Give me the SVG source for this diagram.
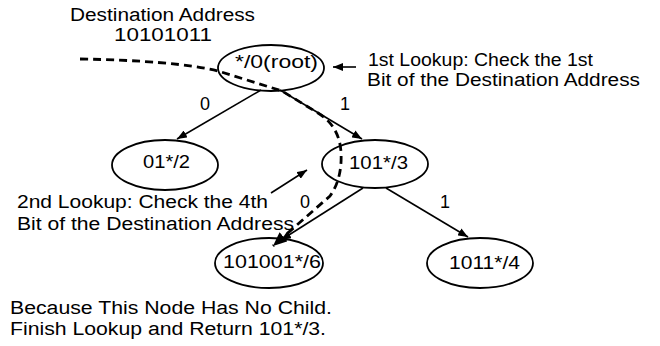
<svg xmlns="http://www.w3.org/2000/svg" width="660" height="346" viewBox="0 0 660 346">
  <style>
    text { font-family: "Liberation Sans", Arial, sans-serif; font-size: 18px; fill: #000; }
    .node ellipse { fill: #fff; stroke: #000; stroke-width: 1.8; }
    .edge { fill: none; stroke: #000; stroke-width: 1.6; }
    .path { fill: none; stroke: #000; stroke-width: 2.8; stroke-dasharray: 8 5; }
  </style>
  <defs>
    <marker id="arrow" viewBox="0 0 10 8" refX="10" refY="4" markerWidth="10" markerHeight="8" markerUnits="userSpaceOnUse" orient="auto">
      <path d="M0,0 L10,4 L0,8 Z" fill="#000"/>
    </marker>
    <marker id="arrowBig" viewBox="0 0 14 12" refX="14" refY="6" markerWidth="14" markerHeight="12" markerUnits="userSpaceOnUse" orient="auto">
      <path d="M0,0 L14,6 L0,12 Z" fill="#000"/>
    </marker>
  </defs>

  <!-- free-standing notes -->
  <g id="notes">
    <text x="70" y="21" textLength="185" lengthAdjust="spacingAndGlyphs">Destination Address</text>
    <text x="114" y="41.2" textLength="98" lengthAdjust="spacingAndGlyphs">10101011</text>
    <text x="368" y="66" textLength="225" lengthAdjust="spacingAndGlyphs">1st Lookup: Check the 1st</text>
    <text x="367" y="86" textLength="273" lengthAdjust="spacingAndGlyphs">Bit of the Destination Address</text>
    <text x="17" y="208" textLength="251" lengthAdjust="spacingAndGlyphs">2nd Lookup: Check the 4th</text>
    <text x="17" y="230" textLength="277" lengthAdjust="spacingAndGlyphs">Bit of the Destination Address</text>
    <text x="10" y="314" textLength="322" lengthAdjust="spacingAndGlyphs">Because This Node Has No Child.</text>
    <text x="10" y="335" textLength="316" lengthAdjust="spacingAndGlyphs">Finish Lookup and Return 101*/3.</text>
  </g>

  <!-- trie nodes -->
  <g id="root" class="node">
    <ellipse cx="271" cy="68" rx="53" ry="23"/>
    <text x="235" y="68" textLength="83" lengthAdjust="spacingAndGlyphs">*/0(root)</text>
  </g>
  <g id="n01" class="node">
    <ellipse cx="165" cy="165" rx="53" ry="25"/>
    <text x="143" y="168" textLength="47" lengthAdjust="spacingAndGlyphs">01*/2</text>
  </g>
  <g id="n101" class="node">
    <ellipse cx="375" cy="164" rx="53" ry="24"/>
    <text x="349" y="169" textLength="59" lengthAdjust="spacingAndGlyphs">101*/3</text>
  </g>
  <g id="n101001" class="node">
    <ellipse cx="269" cy="263" rx="54" ry="25"/>
    <text x="223" y="268" textLength="98" lengthAdjust="spacingAndGlyphs">101001*/6</text>
  </g>
  <g id="n1011" class="node">
    <ellipse cx="480" cy="263" rx="53" ry="25"/>
    <text x="449" y="269" textLength="71" lengthAdjust="spacingAndGlyphs">1011*/4</text>
  </g>

  <!-- connectors, bit labels and lookup pointers -->
  <g id="connectors">
    <line class="edge" x1="261" y1="90" x2="177" y2="139" marker-end="url(#arrow)"/>
    <line class="edge" x1="280" y1="90" x2="362" y2="139" marker-end="url(#arrow)"/>
    <line class="edge" x1="363" y1="188" x2="281" y2="240" marker-end="url(#arrow)"/>
    <line class="edge" x1="386" y1="188" x2="468" y2="237" marker-end="url(#arrow)"/>
    <line class="edge" x1="356" y1="67" x2="333" y2="67" marker-end="url(#arrow)"/>
    <line class="edge" x1="271" y1="193" x2="307" y2="170" marker-end="url(#arrow)"/>
    <path class="path" d="M80,59 C140,60 190,64 218,71 L282,91 L318,113 C333,122 340,136 341,152 C342,170 338,185 330,196 L273,246" marker-end="url(#arrowBig)"/>
    <text x="200" y="110">0</text>
    <text x="340" y="110">1</text>
    <text x="300" y="208">0</text>
    <text x="440" y="208">1</text>
  </g>
</svg>
